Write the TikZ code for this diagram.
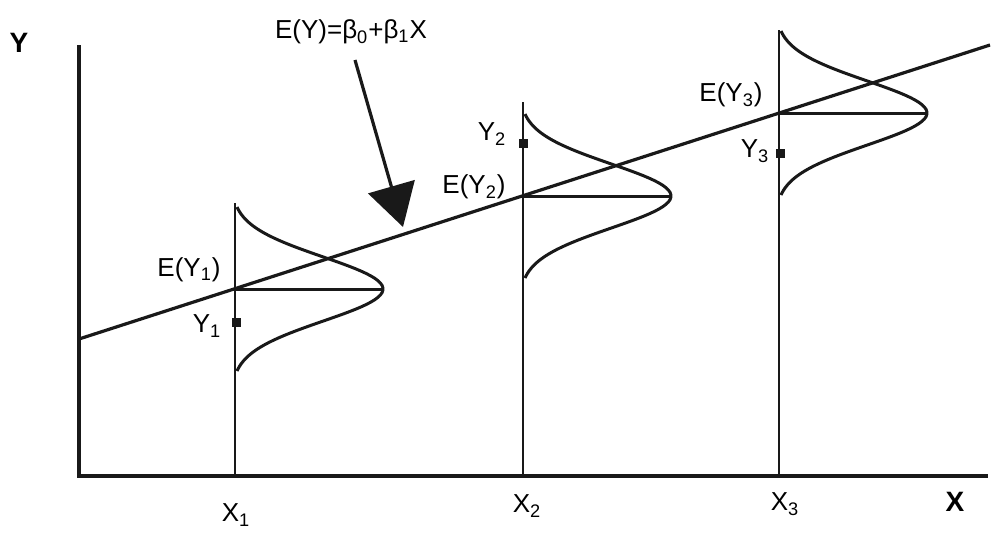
\documentclass[tikz,border=0pt]{standalone}
\usepackage{fontspec}
\setmainfont{Liberation Sans}
\usepackage{tikz}
\usetikzlibrary{arrows.meta}

\tikzset{
  axisline/.style={line width=1.7pt,black!90},
  regline/.style={line width=1.6pt,black!90},
  stem/.style={line width=1.3pt,black!90},
  dens/.style={line width=1.5pt,black!90,line join=round},
  pointer/.style={line width=1.6pt,black!90,-{Triangle[length=21pt,width=24pt]}},
  lbl/.style={inner sep=0pt,font=\fontsize{13}{15}\selectfont},
  axlbl/.style={inner sep=0pt,font=\fontsize{14}{16}\selectfont\bfseries},
  obs/.style={rectangle,fill=black!90,inner sep=0pt,minimum size=4.5pt}
}

\begin{document}
\begin{tikzpicture}[x=0.5pt,y=-0.5pt]
  \useasboundingbox (0,0) rectangle (992,532);
  % axes
  \coordinate (ytop) at (79,45);
  \coordinate (O) at (79,476);
  \coordinate (xend) at (988,476);
  \draw[axisline] (ytop) -- (O) -- (xend);
  \node[axlbl] (ylab) at (19,43) {Y};
  \node[axlbl] (xlab) at (955,502) {X};
  % regression line
  \coordinate (r0) at (79,339);
  \coordinate (r1) at (990,45);
  \draw[regline] (r0) -- (r1);
  % stems, means and densities
  \foreach \n/\xx/\ey/\top in {1/235/289/203,2/523/196/102,3/779/113/30}{
    \coordinate (s\n) at (\xx,\top);
    \coordinate (b\n) at (\xx,476);
    \coordinate (e\n) at (\xx,\ey);
    \coordinate (p\n) at (\xx+148,\ey);
    \draw[stem] (s\n) -- (b\n);
    \draw[dens] (e\n) -- (p\n);
    \draw[dens] plot[domain=-82:82,samples=70,variable=\t]
      ({\xx+2+146*(exp(-\t*\t/2048)-0.0375)/0.9625},{\ey+\t});
  }
  % observed values
  \node[obs] (m1) at (236,322) {};
  \node[obs] (m2) at (523,143) {};
  \node[obs] (m3) at (780,153) {};
  % labels
  \node[lbl] (ey1) at (189,270) {E(Y\textsubscript{1})};
  \node[lbl] (y1) at (207,326) {Y\textsubscript{1}};
  \node[lbl] (ey2) at (474,187) {E(Y\textsubscript{2})};
  \node[lbl] (y2) at (492,134) {Y\textsubscript{2}};
  \node[lbl] (ey3) at (731,95) {E(Y\textsubscript{3})};
  \node[lbl] (y3) at (755,151) {Y\textsubscript{3}};
  \node[lbl] (x1) at (236,515) {X\textsubscript{1}};
  \node[lbl] (x2) at (527,506) {X\textsubscript{2}};
  \node[lbl] (x3) at (785,504) {X\textsubscript{3}};
  \node[lbl] (fml) at (351,32) {E(Y)=β\textsubscript{0}+β\textsubscript{1}X};
  \coordinate (tail) at (355,60);
  \coordinate (tip) at (403,227);
  \draw[pointer] (tail) -- (tip);
\end{tikzpicture}
\end{document}
